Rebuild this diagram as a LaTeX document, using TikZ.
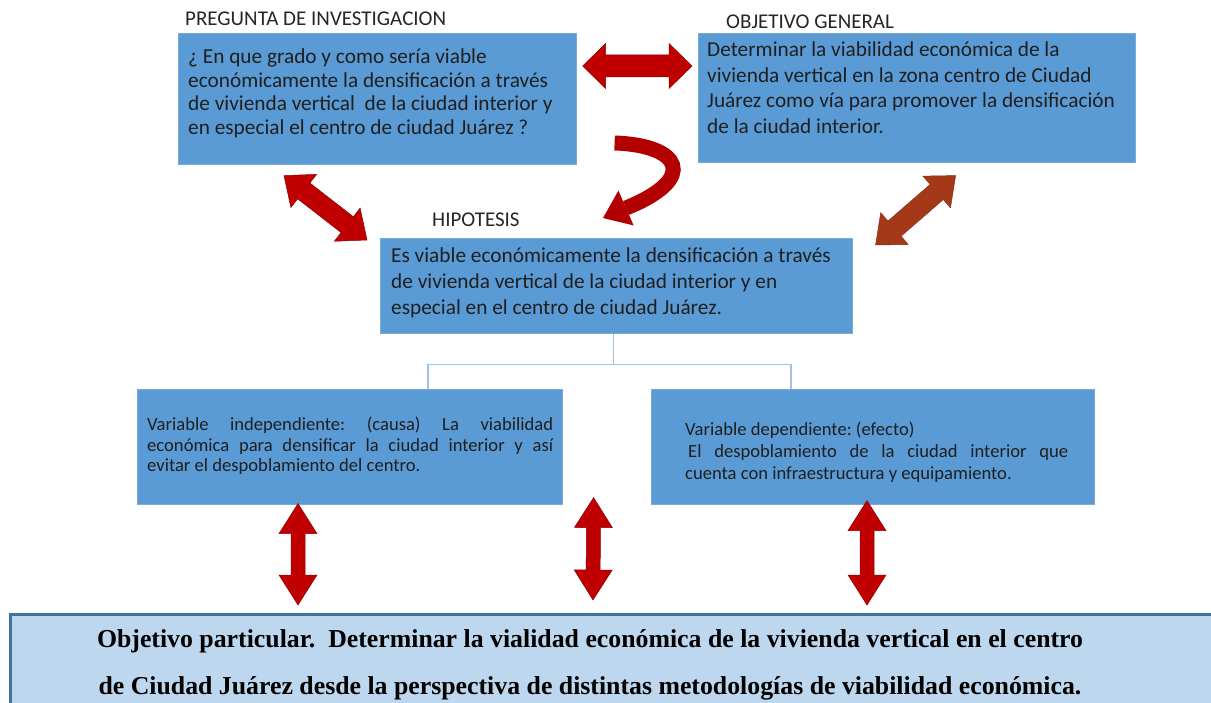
\documentclass[tikz,border=0pt]{standalone}
\usepackage{fontspec}
\setmainfont{Carlito}
\newfontfamily\serifbold{Liberation Serif}
\usetikzlibrary{arrows.meta,calc}
\frenchspacing
\definecolor{boxblue}{RGB}{91,155,213}
\definecolor{boxedge}{RGB}{120,170,215}
\definecolor{arrred}{RGB}{192,0,0}
\definecolor{arrbrown}{RGB}{166,56,26}
\definecolor{curvered}{RGB}{178,0,0}
\definecolor{connblue}{RGB}{157,195,230}
\definecolor{objfill}{RGB}{189,215,238}
\definecolor{objedge}{RGB}{65,113,156}
% #1 A, #2 B, #3 shaft half width, #4 head half width, #5 head length, #6 options
\newcommand\DblArrow[6]{%
  \filldraw[#6] (#1)
    -- ($(#1)!#5!(#2)!#4!90:(#2)$)
    -- ($(#1)!#5!(#2)!#3!90:(#2)$)
    -- ($(#2)!#5!(#1)!#3!-90:(#1)$)
    -- ($(#2)!#5!(#1)!#4!-90:(#1)$)
    -- (#2)
    -- ($(#2)!#5!(#1)!#4!90:(#1)$)
    -- ($(#2)!#5!(#1)!#3!90:(#1)$)
    -- ($(#1)!#5!(#2)!#3!-90:(#2)$)
    -- ($(#1)!#5!(#2)!#4!-90:(#2)$)
    -- cycle;}
\begin{document}
\begin{tikzpicture}[x=1pt,y=-1pt,
  box/.style={draw=boxedge, line width=0.6pt, fill=boxblue, inner sep=0pt, anchor=north west},
  bodytxt/.style={anchor=north west, inner sep=0pt, align=left, text=black!88},
  bigtxt/.style={bodytxt, font=\fontsize{21.3}{23.5}\selectfont},
  smalltxt/.style={bodytxt, align=justify, font=\fontsize{18.6}{20.3}\selectfont},
  title/.style={anchor=base west, inner sep=0pt, font=\fontsize{21}{22}\selectfont, text=black!85},
  conn/.style={draw=connblue, line width=1.2pt},
  redarrow/.style={fill=arrred, draw=arrred!75!black, line width=0.5pt, line join=miter},
  brownarrow/.style={fill=arrbrown, draw=arrbrown!80!black, line width=0.5pt, line join=miter}
]
\useasboundingbox (0,0) rectangle (1211,703);

% boxes
\node[box, minimum width=398pt, minimum height=131pt] (preg) at (178,33) {};
\node[box, minimum width=437pt, minimum height=129pt] (obj) at (698,33) {};
\node[box, minimum width=472pt, minimum height=95pt] (hip) at (380,238) {};
\node[box, minimum width=425pt, minimum height=115pt] (vi) at (137,389) {};
\node[box, minimum width=443pt, minimum height=115pt] (vd) at (651,389) {};
\node[draw=objedge, line width=2.5pt, fill=objfill, inner sep=0pt, anchor=north west,
      minimum width=1215pt, minimum height=100pt] (objp) at (9,613) {};

% titles
\node[title] (tpreg) at (185,26) {PREGUNTA DE INVESTIGACION};
\node[title] (tobj) at (726,29) {OBJETIVO GENERAL};
\node[title] (thip) at (432,227) {HIPOTESIS};

% texts
\node[bigtxt] (pregtxt) at ($(preg.north west)+(10,16)$)
  {¿ En que grado y como sería viable\\
   económicamente la densificación a través\\
   de vivienda vertical~ de la ciudad interior y\\
   en especial el centro de ciudad Juárez ?};
\node[bigtxt, font=\fontsize{21.3}{25.5}\selectfont] (objtxt) at ($(obj.north west)+(9,9)$)
  {Determinar la viabilidad económica de la\\
   vivienda vertical en la zona centro de Ciudad\\
   Juárez como vía para promover la densificación\\
   de la ciudad interior.};
\node[bigtxt, font=\fontsize{21.3}{26}\selectfont] (hiptxt) at ($(hip.north west)+(11,10)$)
  {Es viable económicamente la densificación a través\\
   de vivienda vertical de la ciudad interior y en\\
   especial en el centro de ciudad Juárez.};
\node[smalltxt, text width=406pt] (vitxt) at ($(vi.north west)+(10,28)$)
  {Variable independiente: (causa) La viabilidad\linebreak
   económica para densificar la ciudad interior y así\linebreak
   evitar el despoblamiento del centro.};
\node[smalltxt, text width=383pt, font=\fontsize{18.6}{22}\selectfont] (vdtxt) at ($(vd.north west)+(34,33)$)
  {Variable dependiente: (efecto)\\
   \hspace*{3pt}El despoblamiento de la ciudad interior que\linebreak
   cuenta con infraestructura y equipamiento.};
\node[inner sep=0pt, align=center, font=\serifbold\bfseries\fontsize{25.8}{47}\selectfont] (objptxt) at (590,665)
  {Objetivo particular.~ Determinar la vialidad económica de la vivienda vertical en el centro\\
   de Ciudad Juárez desde la perspectiva de distintas metodologías de viabilidad económica.};

% tree connectors
\coordinate (split) at ($(hip.south)+(-3,31)$);
\coordinate (vitop) at ($(vi.north west)+(291,0)$);
\coordinate (vdtop) at ($(vd.north west)+(140,0)$);
\draw[conn] ($(hip.south)+(-3,0)$) -- (split);
\draw[conn] (split) -| (vitop);
\draw[conn] (split) -| (vdtop);

% horizontal double arrow
\coordinate (h1) at ($(preg.north east)+(6,33)$);
\coordinate (h2) at ($(obj.north west)+(-6,33)$);
\DblArrow{h1}{h2}{11pt}{22.5pt}{23pt}{redarrow}

% diagonal arrows
\coordinate (d1a) at ($(preg.south west)+(106,11)$);
\coordinate (d1b) at ($(hip.north west)+(-13,2)$);
\DblArrow{d1a}{d1b}{10pt}{21pt}{25pt}{redarrow}
\coordinate (d2a) at ($(obj.south east)+(-180,13)$);
\coordinate (d2b) at ($(hip.north east)+(23,7)$);
\DblArrow{d2a}{d2b}{10pt}{21pt}{25pt}{brownarrow}

% curved arrow
\coordinate (cs) at ($(preg.north east)+(38,110)$);
\coordinate (cb) at (626,208);
\coordinate (ct) at ($(hip.north west)+(223,-20)$);
\draw[curvered, line width=15pt] (cs) .. controls (680,145) and (700,178) .. (cb);
\fill[curvered] (ct) -- ($(cb)!19pt!90:(ct)$) -- ($(cb)!19pt!-90:(ct)$) -- cycle;

% vertical arrows
\coordinate (v1a) at ($(vi.south west)+(161,-1)$);
\coordinate (v1b) at ($(objp.north west)+(289,-8)$);
\DblArrow{v1a}{v1b}{7pt}{19pt}{30pt}{redarrow}
\coordinate (v2a) at ($(vi.south east)+(31,-7)$);
\coordinate (v2b) at ($(objp.north west)+(584,-13)$);
\DblArrow{v2a}{v2b}{7pt}{19pt}{30pt}{redarrow}
\coordinate (v3a) at ($(vd.south west)+(216,-4)$);
\coordinate (v3b) at ($(objp.north west)+(858,-8)$);
\DblArrow{v3a}{v3b}{7pt}{19pt}{30pt}{redarrow}
\end{tikzpicture}
\end{document}
